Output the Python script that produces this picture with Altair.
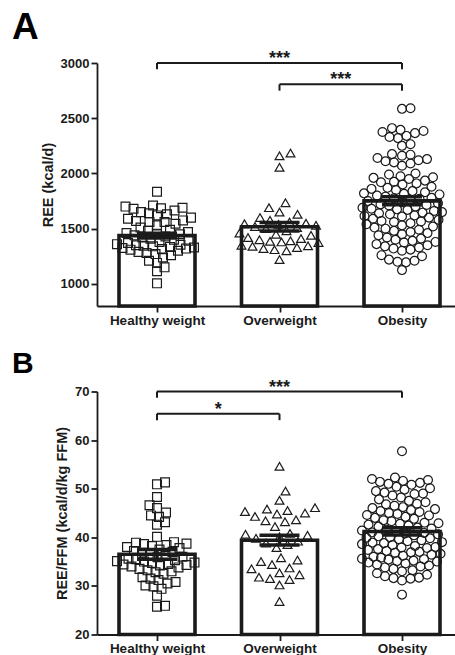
import json

import altair as alt
import numpy as np
import pandas as pd

# ---------------------------------------------------------------------------
# Data
# ---------------------------------------------------------------------------
GROUPS = ["Healthy weight", "Overweight", "Obesity"]

# Resting energy expenditure (kcal/d), one value per subject
REE_HEALTHY = [
    1834, 1710, 1700, 1690, 1685, 1680, 1665, 1650, 1640, 1630, 1620, 1600,
    1590, 1575, 1570, 1560, 1560, 1545, 1530, 1510, 1490, 1480, 1470, 1460,
    1455, 1450, 1440, 1430, 1420, 1410, 1400, 1390, 1380, 1370, 1360, 1355,
    1350, 1345, 1340, 1335, 1330, 1325, 1320, 1315, 1310, 1300, 1290, 1280,
    1270, 1260, 1240, 1210, 1190, 1150, 1115, 1005,
]
REE_OVERWEIGHT = [
    2185, 2160, 2055, 1735, 1690, 1650, 1630, 1600, 1575, 1560, 1550, 1545,
    1540, 1530, 1520, 1510, 1500, 1480, 1460, 1450, 1440, 1420, 1410, 1400,
    1390, 1385, 1380, 1375, 1350, 1345, 1340, 1330, 1320, 1310, 1300, 1220,
]
REE_OBESITY = [
    2590, 2585, 2410, 2395, 2385, 2375, 2365, 2340, 2330, 2320, 2265, 2250,
    2175, 2170, 2160, 2140, 2130, 2120, 2110, 2100, 2090, 2070,
    2000, 1990, 1975, 1965, 1960, 1950, 1935, 1925, 1920, 1910, 1900,
    1880, 1870, 1860, 1850, 1840, 1830, 1820, 1815, 1810, 1800,
    1790, 1780, 1775, 1770, 1760, 1750, 1740, 1730, 1720, 1715, 1710, 1700,
    1690, 1680, 1675, 1670, 1660, 1650, 1645, 1640, 1630, 1620, 1615, 1610, 1600,
    1590, 1580, 1570, 1565, 1560, 1550, 1540, 1530, 1520, 1510, 1500,
    1490, 1480, 1470, 1460, 1450, 1440, 1420, 1410, 1400,
    1390, 1380, 1375, 1360, 1350, 1340, 1330, 1320, 1310, 1300,
    1260, 1250, 1220, 1210, 1200, 1195, 1125,
]
REE_MEAN = [1437, 1518, 1752]
REE_SEM = [22, 38, 36]

# REE normalised to fat-free mass (kcal/d/kg FFM)
FFM_HEALTHY = [
    51.3, 50.9, 48.3, 46.6, 46.0, 45.1, 44.5, 44.2, 43.1, 42.6, 40.1, 39.0,
    38.9, 38.7, 38.6, 38.4, 38.2, 38.0, 37.8, 37.5, 37.2, 37.0, 36.8, 36.5,
    36.2, 36.0, 35.9, 35.6, 35.5, 35.3, 35.1, 35.0, 34.8, 34.7, 34.5, 34.4,
    34.3, 34.2, 34.0, 33.8, 33.5, 33.2, 33.0, 32.8, 32.5, 31.8, 31.5, 31.2,
    30.8, 30.5, 30.1, 29.9, 29.4, 28.0, 25.9, 25.7,
]
FFM_OVERWEIGHT = [
    54.6, 49.5, 47.6, 46.1, 45.8, 45.5, 45.3, 45.0, 44.8, 44.3, 43.6, 43.4,
    43.2, 42.2, 40.8, 40.6, 40.4, 40.1, 39.8, 39.2, 38.8, 38.5, 37.9, 35.8,
    35.3, 35.0, 34.4, 33.7, 33.5, 32.7, 32.3, 31.8, 31.5, 31.3, 30.2, 26.8,
]
FFM_OBESITY = [
    57.7,
    52.3, 52.0, 51.8, 51.6, 51.4, 51.2, 51.0, 50.8,
    50.4, 50.1, 49.8, 49.5, 49.2, 49.0, 48.9, 48.6,
    48.2, 47.8, 47.5, 47.2, 46.9, 46.8, 46.5,
    46.2, 46.0, 45.8, 45.6, 45.4, 45.2, 45.0, 44.8,
    44.6, 44.5, 44.2, 44.0, 43.8, 43.5, 43.3, 43.0, 42.9, 42.8,
    42.6, 42.4, 42.2, 42.0, 41.8, 41.6, 41.4, 41.2,
    41.0, 40.9, 40.8, 40.6, 40.4, 40.2, 40.0, 39.9, 39.8, 39.6, 39.4, 39.2,
    39.0, 38.9, 38.8, 38.6, 38.4, 38.2, 38.0, 37.9, 37.8, 37.6, 37.4, 37.2,
    37.0, 36.9, 36.8, 36.6, 36.4, 36.2, 36.0, 35.8, 35.6,
    35.5, 35.4, 35.2, 35.1, 35.0, 34.8, 34.6, 34.4, 34.2, 34.0, 33.8,
    33.5, 33.2, 33.0, 32.6, 32.3, 32.0, 31.7, 31.6, 31.5, 31.1,
    28.2,
]
FFM_MEAN = [36.5, 39.4, 41.2]
FFM_SEM = [1.0, 1.0, 0.75]

# Significance brackets: (first group, second group, height, label)
REE_BRACKETS = [(0, 2, 3000, "***"), (1, 2, 2807, "***")]
FFM_BRACKETS = [(0, 2, 70, "***"), (0, 1, 65.4, "*")]

# ---------------------------------------------------------------------------
# Layout / style
# ---------------------------------------------------------------------------
W, H = 358, 243
STEP_PX = 122.5                    # pixels between group centres
X_LO = -60 / STEP_PX
X_HI = (W - 60) / STEP_PX
BAR_HALF = 38 / STEP_PX
CAP_HALF = 20 / STEP_PX
INK = "#1b1b1b"
FONT = "Liberation Sans"
SHAPES = ["square", "triangle-up", "circle"]
SIZES = [78, 78, 88]
MIN_GAP = [8.0, 11.0, 8.5]          # collision distance of the swarm, px
MAX_SPREAD = 40.0                   # half width of the swarm, px


def swarm(values, px_per_unit, gap, max_half):
    """Deterministic beeswarm: horizontal pixel offsets so markers don't pile up."""
    y = np.asarray(values, float) * px_per_unit
    order = np.argsort(y, kind="stable")
    cands = [0.0]
    k = 0.5
    while k <= max_half:
        cands += [k, -k]
        k += 0.5
    cands = np.array(cands)
    px, py = [], []
    out = np.zeros(len(y))
    for i in order:
        if not px:
            choice = 0.0
        else:
            dx = cands[:, None] - np.array(px)[None, :]
            dy = y[i] - np.array(py)[None, :]
            dmin = np.sqrt(dx ** 2 + dy ** 2).min(axis=1)
            ok = np.nonzero(dmin >= gap)[0]
            choice = cands[ok[0]] if len(ok) else cands[int(np.argmax(dmin))]
        out[i] = choice
        px.append(choice)
        py.append(y[i])
    return out


def xenc(field):
    return alt.X(
        f"{field}:Q",
        scale=alt.Scale(domain=[X_LO, X_HI], nice=False, zero=False),
        axis=alt.Axis(
            values=[0, 1, 2],
            labelExpr=f"{json.dumps(GROUPS)}[datum.value]",
            title=None,
            labelFontSize=13.5,
            labelPadding=1,
        ),
    )


def panel(series, means, sems, domain, ticks, title, brackets, letter, letter_size, letter_y):
    ymin, ymax = domain
    ppu = H / (ymax - ymin)

    def yenc(field):
        return alt.Y(
            f"{field}:Q",
            scale=alt.Scale(domain=[ymin, ymax], nice=False, zero=False),
            axis=alt.Axis(values=ticks, format="d", title=title, titlePadding=5, labelPadding=2),
        )

    rows = []
    for gi, vals in enumerate(series):
        offs = swarm(vals, ppu, MIN_GAP[gi], MAX_SPREAD)
        for v, o in zip(vals, offs):
            rows.append({"group": GROUPS[gi], "value": v, "xpos": gi + o / STEP_PX})
    pts = pd.DataFrame(rows)

    summ = pd.DataFrame({"group": GROUPS, "idx": [0, 1, 2], "mean": means, "sem": sems})
    summ["xl"] = summ["idx"] - BAR_HALF
    summ["xr"] = summ["idx"] + BAR_HALF
    summ["cl"] = summ["idx"] - CAP_HALF
    summ["cr"] = summ["idx"] + CAP_HALF
    summ["lo"] = summ["mean"] - summ["sem"]
    summ["hi"] = summ["mean"] + summ["sem"]

    br = pd.DataFrame(brackets, columns=["a", "b", "y", "label"])
    br["mid"] = (br["a"] + br["b"]) / 2
    br["tip"] = br["y"] - 0.026 * (ymax - ymin)

    bars = alt.Chart(summ).mark_bar(
        fill="white", stroke=INK, strokeWidth=3.6
    ).encode(x=xenc("xl"), x2="xr:Q", y=yenc("mean"), y2=alt.value(H))

    points = alt.Chart(pts).mark_point(
        filled=False, strokeWidth=1.2, color=INK, opacity=1
    ).encode(
        x=xenc("xpos"),
        y=yenc("value"),
        shape=alt.Shape("group:N", scale=alt.Scale(domain=GROUPS, range=SHAPES), legend=None),
        size=alt.Size("group:N", scale=alt.Scale(domain=GROUPS, range=SIZES), legend=None),
    )

    err = alt.Chart(summ).mark_rule(color=INK, strokeWidth=3.5).encode(
        x=xenc("idx"), y=yenc("lo"), y2="hi:Q"
    )
    cap_hi = alt.Chart(summ).mark_rule(color=INK, strokeWidth=3.5).encode(
        x=xenc("cl"), x2="cr:Q", y=yenc("hi")
    )
    cap_lo = alt.Chart(summ).mark_rule(color=INK, strokeWidth=3.5).encode(
        x=xenc("cl"), x2="cr:Q", y=yenc("lo")
    )

    br_line = alt.Chart(br).mark_rule(color=INK, strokeWidth=2).encode(
        x=xenc("a"), x2="b:Q", y=yenc("y")
    )
    br_left = alt.Chart(br).mark_rule(color=INK, strokeWidth=2).encode(
        x=xenc("a"), y=yenc("y"), y2="tip:Q"
    )
    br_right = alt.Chart(br).mark_rule(color=INK, strokeWidth=2).encode(
        x=xenc("b"), y=yenc("y"), y2="tip:Q"
    )
    br_text = alt.Chart(br).mark_text(
        font=FONT, fontSize=18, fontWeight="bold", color=INK, baseline="alphabetic", dy=1
    ).encode(x=xenc("mid"), y=yenc("y"), text="label:N")

    tag = alt.Chart(pd.DataFrame({"letter": [letter]})).mark_text(
        font=FONT, fontSize=letter_size, fontWeight="bold", color="black",
        align="left", baseline="alphabetic",
    ).encode(text="letter:N", x=alt.value(-85), y=alt.value(letter_y))

    return alt.layer(
        bars, points, err, cap_hi, cap_lo, br_line, br_left, br_right, br_text, tag
    ).properties(width=W, height=H)


panel_a = panel(
    [REE_HEALTHY, REE_OVERWEIGHT, REE_OBESITY], REE_MEAN, REE_SEM,
    (800, 3000), [1000, 1500, 2000, 2500, 3000], "REE (kcal/d)",
    REE_BRACKETS, "A", 37, -24,
)
panel_b = panel(
    [FFM_HEALTHY, FFM_OVERWEIGHT, FFM_OBESITY], FFM_MEAN, FFM_SEM,
    (20, 70), [20, 30, 40, 50, 60, 70], "REE/FFM (kcal/d/kg FFM)",
    FFM_BRACKETS, "B", 30, -18.5,
)

chart = (
    alt.vconcat(panel_a, panel_b, spacing=21.5)
    .properties(padding={"left": 12, "top": 9, "right": 0, "bottom": 0})
    .configure_view(stroke=None)
    .configure_axis(
        grid=False,
        domainColor=INK,
        domainWidth=1.8,
        tickColor=INK,
        tickWidth=1.8,
        tickSize=6,
        labelFont=FONT,
        labelFontSize=13,
        labelFontWeight="bold",
        labelColor=INK,
        titleFont=FONT,
        titleFontSize=14.5,
        titleFontWeight="bold",
        titleColor=INK,
    )
)

chart.save("out.html", embed_options={"renderer": "svg", "actions": False})
